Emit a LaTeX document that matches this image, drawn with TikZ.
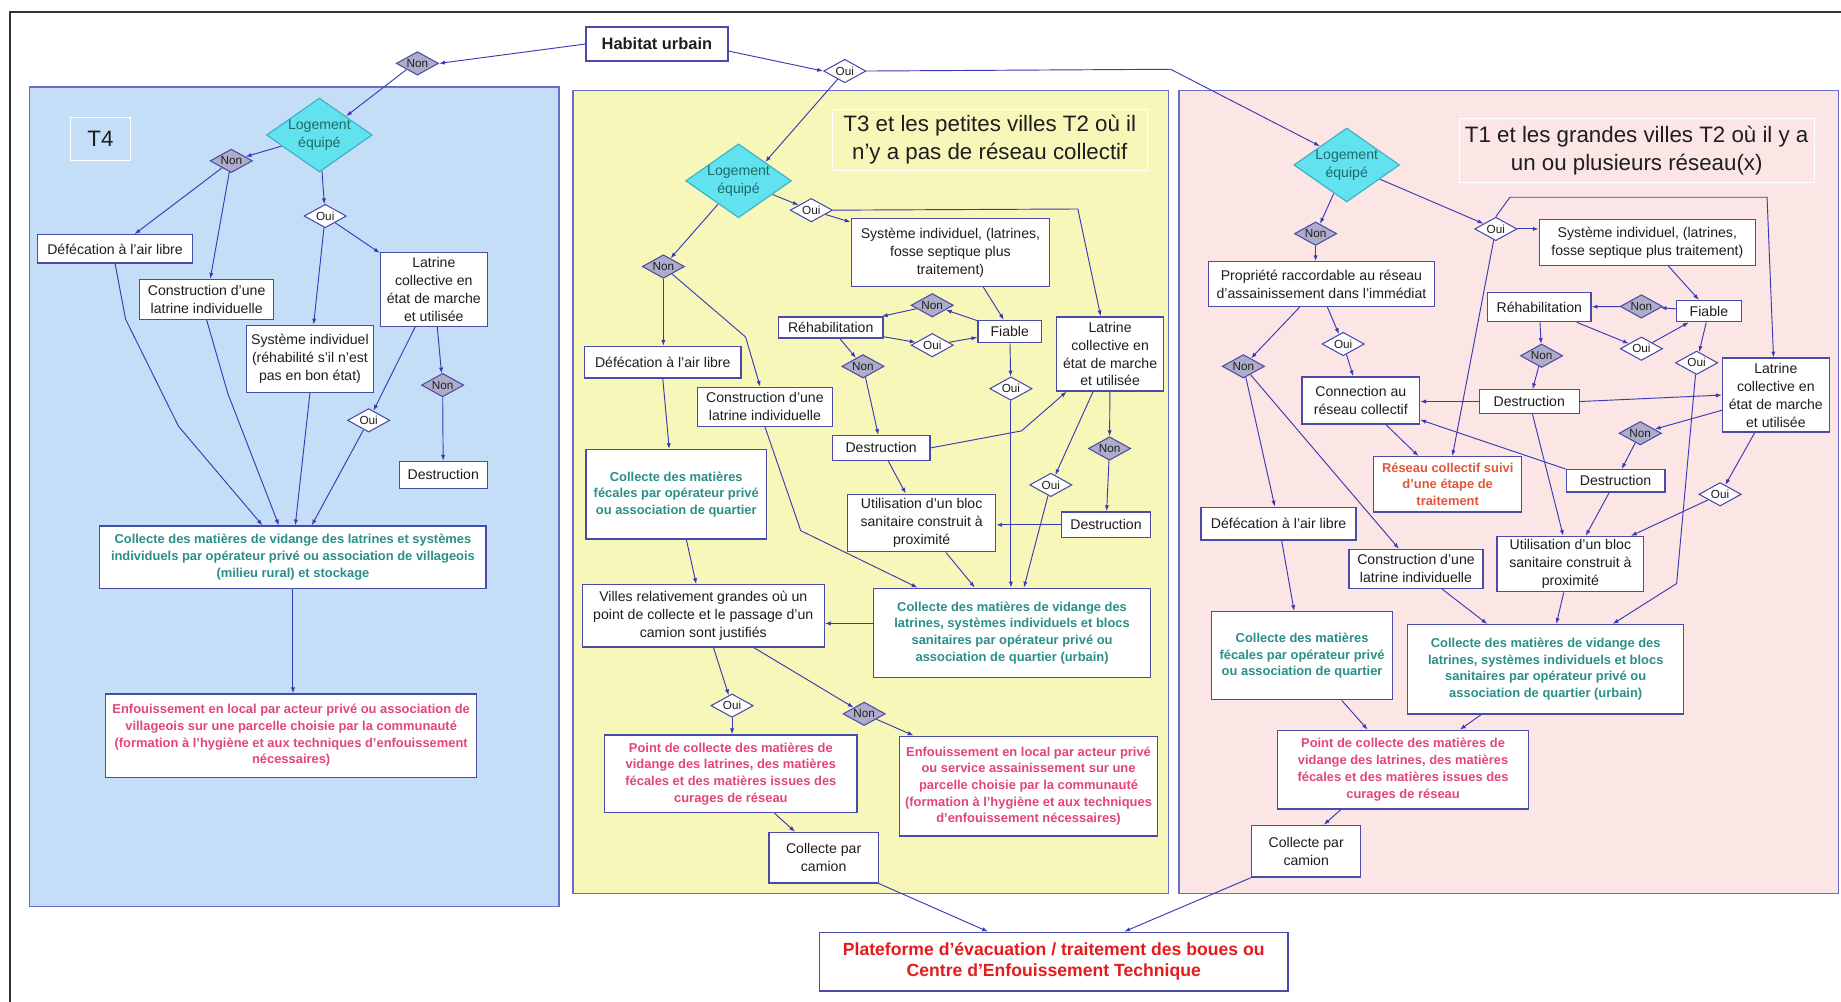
\documentclass[tikz,border=0pt]{standalone}
\usepackage{fontspec}
\setmainfont{Liberation Sans}
\usetikzlibrary{shapes.geometric,arrows.meta,calc}

\definecolor{linec}{HTML}{3A3AB4}
\definecolor{bordc}{HTML}{4A4AA8}
\definecolor{panb}{HTML}{6C6CCC}
\definecolor{blueP}{HTML}{C4DEF7}
\definecolor{yelP}{HTML}{F8F7BA}
\definecolor{pinkP}{HTML}{FBE5E5}
\definecolor{nonF}{HTML}{ADACC9}
\definecolor{cyanF}{HTML}{62E2EE}
\definecolor{cyanB}{HTML}{3CB4C8}
\definecolor{tealT}{HTML}{2A8F86}
\definecolor{pinkT}{HTML}{E2457A}
\definecolor{orT}{HTML}{E0573C}
\definecolor{redT}{HTML}{E31B1B}
\definecolor{txt}{HTML}{1E1E1E}
\definecolor{lgT}{HTML}{1F6A66}
\definecolor{frameC}{HTML}{333333}

\newcommand\fN{\fontsize{12}{15.3}\selectfont}
\newcommand\fC{\fontsize{11}{14.2}\selectfont\bfseries}
\newcommand\fD{\fontsize{10}{11}\selectfont}
\newcommand\fT{\fontsize{19}{24}\selectfont}

\pgfdeclarelayer{back}\pgfdeclarelayer{links}
\pgfsetlayers{back,links,main}

\tikzset{
  box/.style={draw=bordc, line width=1.1pt, fill=white, inner sep=1pt, align=center, font=\fN, text=txt},
  cbox/.style={box, font=\fC, text=tealT},
  pbox/.style={box, font=\fC, text=pinkT},
  rbox/.style={box, font=\fC, text=orT},
  hbox/.style={box, font={\fontsize{14}{16}\selectfont\bfseries}},
  platbox/.style={box, font={\fontsize{15}{17.7}\selectfont\bfseries}, text=redT},
  ttl/.style={draw=white, line width=0.7pt, align=center, font=\fT, text=txt, inner sep=0pt},
  dnon/.style={diamond, draw=bordc, line width=0.9pt, fill=nonF, minimum width=36pt, minimum height=20pt, inner sep=0pt, aspect=1.8, font=\fD, text=txt},
  doui/.style={dnon, fill=white},
  lgm/.style={diamond, draw=cyanB, line width=1pt, fill=cyanF, minimum width=90pt, minimum height=63pt, inner sep=0pt},
  lgtxt/.style={font=\fN, text=lgT, align=center, inner sep=0pt},
  panel/.style={draw=panb, line width=1.2pt},
  ar/.style={draw=linec, line width=0.8pt, -{Latex[length=5pt,width=3.6pt]}},
}

\newcommand\bx[7]{\node[#1, minimum width={#5-#3}, minimum height={#6-#4}] (#2) at ({(#3+#5)/2},{(#4+#6)/2}) {#7};}

\begin{document}
\begin{tikzpicture}[x=1pt,y=-1pt]
\useasboundingbox (0,0) rectangle (1568,853);
\begin{pgfonlayer}{back}
\fill[white] (0,0) rectangle (1568,853);
\draw[frameC, line width=1.6pt] (8.5,853) -- (8.5,10) -- (1568,10);
\draw[panel, fill=blueP] (25,74) rectangle (476,772);
\draw[panel, fill=yelP] (488,77) rectangle (995,761);
\draw[panel, fill=pinkP] (1004,77) rectangle (1566,761);
\end{pgfonlayer}

% titles
\bx{ttl}{t4lab}{60}{100}{111}{137}{T4}
\bx{ttl}{t3title}{709}{93}{977}{145}{T3 et les petites villes T2 où il\\n'y a pas de réseau collectif}
\bx{ttl}{t1title}{1243}{101}{1545}{155}{T1 et les grandes villes T2 où il y a\\un ou plusieurs réseau(x)}

% top
\bx{hbox}{hab}{499}{23}{620}{52}{Habitat urbain}
\node[dnon] (non0) at (355.5,54) {Non};
\node[doui] (oui0) at (719.5,60.5) {Oui};

% T4
\node[lgm, label={[lgtxt]center:{Logement\\équipé}}] (lg4) at (272,115) {};
\node[dnon] (n4a) at (197,137) {Non};
\node[doui] (o4) at (277,184) {Oui};
\bx{box}{def4}{32}{200}{164}{224}{Défécation à l'air libre}
\bx{box}{con4}{119}{238}{233}{272}{Construction d'une\\latrine individuelle}
\bx{box}{sys4}{210}{277}{318}{334}{Système individuel\\(réhabilité s'il n'est\\pas en bon état)}
\bx{box}{lat4}{324}{215}{415}{278}{Latrine\\collective en\\état de marche\\et utilisée}
\node[dnon] (n4b) at (377,328) {Non};
\node[doui] (o4b) at (314,358) {Oui};
\bx{box}{des4}{340}{393}{415}{416}{Destruction}
\bx{cbox}{coll4}{85}{448}{414}{501}{Collecte des matières de vidange des latrines et systèmes\\individuels par opérateur privé ou association de villageois\\(milieu rural) et stockage}
\bx{pbox}{enf4}{90}{591}{406}{662}{Enfouissement en local par acteur privé ou association de\\villageois sur une parcelle choisie par la communauté\\(formation à l'hygiène et aux techniques d'enfouissement\\nécessaires)}

% T3
\node[lgm, label={[lgtxt]center:{Logement\\équipé}}] (lg3) at (629,154) {};
\node[dnon] (n3) at (565,227) {Non};
\node[doui] (o3) at (691,179) {Oui};
\bx{box}{sys3}{725}{186}{894}{244}{Système individuel, (latrines,\\fosse septique plus\\traitement)}
\bx{box}{reh3}{663}{270}{752}{288}{Réhabilitation}
\node[dnon] (n3a) at (794,260) {Non};
\node[doui] (o3a) at (794,294) {Oui};
\bx{box}{fia3}{833}{273}{887}{292}{Fiable}
\bx{box}{lat3}{900}{270}{991}{333}{Latrine\\collective en\\état de marche\\et utilisée}
\node[dnon] (n3b) at (735,312) {Non};
\node[doui] (o3b) at (861,331) {Oui};
\bx{box}{def3}{498}{295}{631}{322}{Défécation à l'air libre}
\bx{box}{con3}{594}{330}{709}{363}{Construction d'une\\latrine individuelle}
\bx{box}{des3a}{709}{371}{792}{392}{Destruction}
\node[dnon] (n3c) at (945,382) {Non};
\node[doui] (o3c) at (895,413) {Oui};
\bx{cbox}{col3f}{499}{383}{653}{459}{Collecte des matières\\fécales  par opérateur privé\\ou association de quartier}
\bx{box}{util3}{722}{421}{848}{470}{Utilisation d'un bloc\\sanitaire construit à\\proximité}
\bx{box}{des3b}{904}{436}{980}{458}{Destruction}
\bx{cbox}{col3u}{744}{501}{980}{577}{Collecte des matières de vidange des\\latrines, systèmes individuels et blocs\\sanitaires par opérateur privé ou\\association de quartier (urbain)}
\bx{box}{vil3}{496}{498}{702}{551}{Villes relativement grandes où un\\point de collecte et le passage d'un\\camion sont justifiés}
\node[doui] (o3d) at (623.5,601) {Oui};
\node[dnon] (n3d) at (736,608) {Non};
\bx{pbox}{pt3}{515}{626}{730}{692}{Point de collecte des matières de\\vidange des latrines, des matières\\fécales et des matières issues des\\curages de réseau}
\bx{pbox}{enf3}{766}{627}{986}{712}{Enfouissement en local par acteur privé\\ou service assainissement sur une\\parcelle choisie par la communauté\\(formation à l'hygiène et aux techniques\\d'enfouissement nécessaires)}
\bx{box}{cam3}{655}{709}{748}{752}{Collecte par\\camion}

% bottom
\bx{platbox}{plat}{698}{794}{1097}{844}{Plateforme d'évacuation / traitement des boues ou\\Centre d'Enfouissement Technique}

% T1
\node[lgm, label={[lgtxt]center:{Logement\\équipé}}] (lg1) at (1147,140.5) {};
\node[dnon] (n1) at (1120.5,199) {Non};
\node[doui] (o1) at (1274,195) {Oui};
\bx{box}{sys1}{1311}{187}{1495}{226}{Système individuel, (latrines,\\fosse septique plus traitement)}
\bx{box}{prop}{1029}{223}{1222}{261}{Propriété raccordable au réseau\\d'assainissement dans l'immédiat}
\bx{box}{reh1}{1267}{249}{1355}{274}{Réhabilitation}
\node[dnon] (n1a) at (1398,261) {Non};
\bx{box}{fia1}{1428}{256}{1483}{274}{Fiable}
\node[doui] (o1a) at (1398,297) {Oui};
\node[doui] (o1b) at (1445,309) {Oui};
\node[dnon] (n1b) at (1313,303) {Non};
\node[doui] (o1d) at (1144,293) {Oui};
\node[dnon] (n1d) at (1059,312) {Non};
\bx{box}{con1}{1109}{321}{1209}{361}{Connection au\\réseau collectif}
\bx{box}{des1a}{1260}{332}{1345}{352}{Destruction}
\bx{box}{lat1}{1467}{305}{1558}{368}{Latrine\\collective en\\état de marche\\et utilisée}
\node[dnon] (n1c) at (1397,369) {Non};
\bx{rbox}{res1}{1170}{389}{1296}{436}{Réseau collectif suivi\\d'une étape de\\traitement}
\bx{box}{des1b}{1334}{400}{1418}{419}{Destruction}
\node[doui] (o1c) at (1465,421) {Oui};
\bx{box}{def1}{1023}{432}{1155}{460}{Défécation à l'air libre}
\bx{box}{con1b}{1149}{468}{1263}{501}{Construction d'une\\latrine individuelle}
\bx{box}{util1}{1275}{457}{1400}{504}{Utilisation d'un bloc\\sanitaire construit à\\proximité}
\bx{cbox}{col1f}{1032}{521}{1186}{596}{Collecte des matières\\fécales  par opérateur privé\\ou association de quartier}
\bx{cbox}{col1u}{1199}{532}{1434}{608}{Collecte des matières de vidange des\\latrines, systèmes individuels et blocs\\sanitaires par opérateur privé ou\\association de quartier (urbain)}
\bx{pbox}{pt1}{1088}{622}{1302}{689}{Point de collecte des matières de\\vidange des latrines, des matières\\fécales et des matières issues des\\curages de réseau}
\bx{box}{cam1}{1066}{703}{1159}{747}{Collecte par\\camion}

\begin{pgfonlayer}{links}
% top
\draw[ar] (hab.west) -- (non0.east);
\draw[ar] ([yshift=-6pt]hab.east) -- (oui0.west);
\draw[ar] (non0.south west) -- (lg4.north east);
\draw[ar] (oui0) -- (lg3.north east);
\draw[ar] (oui0.east) -- (997,59) -- (lg1.north west);
% T4
\draw[ar] (lg4) -- (n4a);
\draw[ar] (n4a) -- (def4);
\draw[ar] (n4a) -- (con4);
\draw[ar] (lg4) -- (o4);
\draw[ar] (o4) -- (sys4);
\draw[ar] (o4) -- (lat4);
\draw[ar] (lat4) -- (n4b);
\draw[ar] (n4b) -- (des4);
\draw[ar] (lat4) -- (o4b);
\draw[ar] (def4.south) -- (107,272) -- (152,363) -- ([xshift=-26pt]coll4.north);
\draw[ar] (con4.south) -- (194,335) -- ([xshift=-12pt]coll4.north);
\draw[ar] (sys4.south) -- ([xshift=2pt]coll4.north);
\draw[ar] (o4b) -- ([xshift=16pt]coll4.north);
\draw[ar] (coll4.south) -- (coll4.south |- enf4.north);
% T3
\draw[ar] (lg3) -- (o3);
\draw[ar] (o3) -- (sys3);
\draw[ar] (o3.east) -- (918,178) -- ([xshift=-8pt]lat3.north);
\draw[ar] ([xshift=28pt]sys3.south) -- ([xshift=-5pt]fia3.north);
\draw[ar] (fia3) -- (n3a);
\draw[ar] (n3a) -- (reh3);
\draw[ar] (reh3) -- (o3a);
\draw[ar] (o3a) -- (fia3);
\draw[ar] (reh3) -- (n3b);
\draw[ar] (n3b) -- (des3a);
\draw[ar] (fia3) -- (o3b);
\draw[ar] (o3b) -- (o3b |- col3u.north);
\draw[ar] (des3a.east) -- (870,367) -- ([xshift=9pt]lat3.south west);
\draw[ar] (lat3) -- (n3c);
\draw[ar] (n3c) -- (des3b);
\draw[ar] (lat3) -- (o3c);
\draw[ar] (o3c) -- (col3u);
\draw[ar] (des3b.west) -- (des3b.west -| util3.east);
\draw[ar] (util3) -- (col3u);
\draw[ar] (des3a) -- (util3);
\draw[ar] (con3.south) -- (682,452) -- ([xshift=38pt]col3u.north west);
\draw[ar] (n3) -- (635,287) -- ([xshift=-4pt]con3.north);
\draw[ar] (lg3) -- (n3);
\draw[ar] (n3) -- (n3 |- def3.north);
\draw[ar] (def3.south) -- ([xshift=-6pt]col3f.north);
\draw[ar] (col3f) -- (vil3);
\draw[ar] ([yshift=8pt]col3u.west) -- ([yshift=8pt]col3u.west -| vil3.east);
\draw[ar] (vil3) -- (o3d);
\draw[ar] ([xshift=43pt]vil3.south) -- (n3d);
\draw[ar] (n3d) -- (enf3);
\draw[ar] (o3d) -- (o3d |- pt3.north);
\draw[ar] (pt3) -- (cam3);
\draw[ar] (cam3.south east) -- ([xshift=-56pt]plat.north);
\draw[ar] (cam1.south west) -- ([xshift=60pt]plat.north);
% T1
\draw[ar] (lg1) -- (n1);
\draw[ar] (n1) -- (n1 |- prop.north);
\draw[ar] (lg1) -- (o1);
\draw[ar] (o1.east) -- (o1.east -| sys1.west);
\draw[ar] (o1) -- ([xshift=4pt]res1.north);
\draw[ar] (o1.north) -- (1286,168) -- (1505,168) -- ([xshift=-2pt]lat1.north);
\draw[ar] (sys1) -- (fia1);
\draw[ar] (fia1) -- (n1a);
\draw[ar] (n1a) -- (reh1);
\draw[ar] (reh1) -- (o1a);
\draw[ar] (o1a) -- (fia1);
\draw[ar] (reh1) -- (n1b);
\draw[ar] (n1b) -- (des1a);
\draw[ar] (fia1) -- (o1b);
\draw[ar] (o1b) -- (1428,497) -- ([xshift=57pt]col1u.north);
\draw[ar] (des1a.west) -- (des1a.west -| con1.east);
\draw[ar] (des1a.east) -- (lat1.west);
\draw[ar] (des1a) -- (util1);
\draw[ar] (lat1) -- (n1c);
\draw[ar] (n1c) -- (des1b);
\draw[ar] (des1b) -- (util1);
\draw[ar] (des1b.north west) -- ([yshift=4pt]con1.south east);
\draw[ar] (lat1) -- (o1c);
\draw[ar] (o1c) -- (util1);
\draw[ar] ([xshift=5pt]prop.south) -- (o1d);
\draw[ar] (o1d) -- (con1);
\draw[ar] (prop) -- (n1d);
\draw[ar] (n1d) -- (def1);
\draw[ar] (n1d) -- (con1b);
\draw[ar] (con1) -- (res1);
\draw[ar] (def1) -- (col1f);
\draw[ar] (con1b) -- (col1u);
\draw[ar] (util1) -- (col1u);
\draw[ar] (col1f) -- (pt1);
\draw[ar] (col1u) -- (pt1);
\draw[ar] ([xshift=-53pt]pt1.south) -- ([xshift=15pt]cam1.north);
\end{pgfonlayer}
\end{tikzpicture}
\end{document}
